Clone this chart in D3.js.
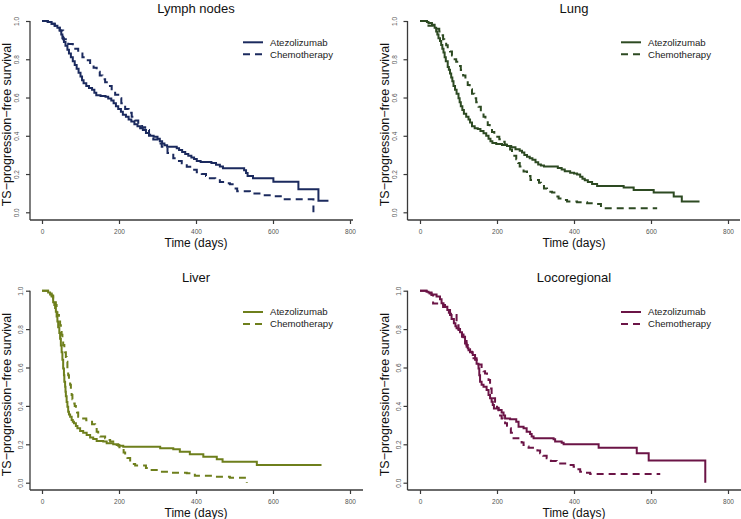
<!DOCTYPE html>
<html><head><meta charset="utf-8">
<script src="https://cdn.jsdelivr.net/npm/d3@7"></script>
<style>body{margin:0;background:#fff} svg{display:block} text{font-family:"Liberation Sans",Arial,Helvetica,sans-serif}</style>
</head><body><svg id="c" width="741" height="519"></svg>
<script>
const panelTitles = ["Lymph nodes", "Lung", "Liver", "Locoregional"];
const seriesNames = ["Atezolizumab", "Chemotherapy"];
const xTicks = [0, 200, 400, 600, 800];
const yTicks = [0, 0.2, 0.4, 0.6, 0.8, 1.0];
const xTitle = "Time (days)";
const yTitle = "TS\u2212progression\u2212free survival";
const panelColors = ["#1b2a5e", "#2d4a22", "#6e7f1c", "#6b1446"];

// [time (days), survival] step points
const lymphAtezo = [[0,1],[15,0.995],[25,0.985],[33,0.975],[40,0.965],[46,0.95],[50,0.93],[53,0.91],[57,0.89],[61,0.87],[66,0.85],[70,0.83],[75,0.81],[80,0.79],[85,0.77],[90,0.75],[95,0.73],[100,0.71],[104,0.69],[108,0.675],[115,0.66],[122,0.65],[130,0.64],[136,0.625],[141,0.612],[152,0.608],[165,0.604],[172,0.595],[180,0.585],[186,0.57],[192,0.555],[198,0.54],[205,0.525],[210,0.51],[218,0.5],[225,0.485],[232,0.475],[240,0.46],[248,0.45],[255,0.44],[262,0.43],[270,0.415],[278,0.4],[290,0.395],[300,0.385],[306,0.372],[312,0.36],[318,0.35],[325,0.343],[350,0.335],[356,0.326],[364,0.315],[372,0.305],[380,0.296],[388,0.286],[395,0.278],[402,0.268],[412,0.263],[440,0.258],[452,0.248],[462,0.24],[470,0.23],[525,0.22],[530,0.205],[534,0.19],[548,0.178],[601,0.16],[666,0.12],[718,0.06],[744,0.06]];
const lymphChemo = [[0,1],[15,0.995],[25,0.985],[33,0.975],[40,0.965],[46,0.95],[55,0.905],[68,0.88],[80,0.855],[94,0.83],[105,0.81],[116,0.795],[125,0.775],[134,0.755],[142,0.735],[150,0.715],[157,0.695],[164,0.68],[172,0.66],[181,0.636],[190,0.615],[198,0.596],[206,0.57],[216,0.54],[225,0.52],[233,0.5],[242,0.48],[250,0.462],[260,0.445],[268,0.43],[278,0.405],[289,0.38],[300,0.36],[311,0.343],[326,0.31],[341,0.282],[352,0.268],[363,0.256],[376,0.238],[389,0.222],[402,0.21],[415,0.2],[426,0.19],[436,0.178],[450,0.168],[462,0.159],[475,0.152],[488,0.146],[500,0.125],[507,0.11],[540,0.098],[571,0.089],[601,0.084],[627,0.068],[705,0]];
const lungAtezo = [[0,1],[18,0.995],[22,0.99],[31,0.98],[38,0.965],[42,0.945],[45,0.93],[48,0.91],[52,0.895],[55,0.875],[58,0.855],[61,0.835],[64,0.81],[67,0.79],[72,0.76],[75,0.745],[78,0.725],[81,0.705],[84,0.685],[87,0.66],[91,0.64],[95,0.62],[100,0.596],[103,0.575],[106,0.555],[110,0.535],[114,0.515],[120,0.5],[126,0.485],[130,0.47],[135,0.45],[142,0.44],[150,0.435],[157,0.425],[165,0.413],[172,0.4],[178,0.385],[183,0.372],[188,0.362],[198,0.357],[213,0.352],[226,0.347],[237,0.34],[248,0.33],[259,0.322],[265,0.312],[271,0.3],[278,0.29],[285,0.282],[292,0.275],[300,0.262],[307,0.25],[314,0.244],[322,0.239],[348,0.239],[358,0.232],[368,0.224],[376,0.214],[390,0.207],[400,0.203],[408,0.197],[416,0.186],[422,0.175],[428,0.167],[436,0.158],[447,0.148],[460,0.138],[529,0.129],[555,0.117],[607,0.103],[659,0.082],[680,0.056],[726,0.056]];
const lungChemo = [[0,1],[18,0.995],[22,0.975],[35,0.97],[44,0.96],[50,0.945],[55,0.925],[60,0.905],[63,0.89],[68,0.873],[72,0.857],[78,0.84],[83,0.82],[90,0.8],[94,0.787],[100,0.765],[106,0.744],[112,0.715],[118,0.69],[124,0.665],[129,0.643],[135,0.62],[141,0.596],[146,0.575],[152,0.552],[158,0.525],[165,0.5],[170,0.478],[176,0.456],[181,0.438],[187,0.42],[193,0.405],[198,0.395],[206,0.382],[213,0.369],[220,0.355],[228,0.343],[234,0.328],[239,0.312],[245,0.295],[250,0.277],[255,0.258],[259,0.239],[264,0.226],[269,0.213],[278,0.19],[287,0.169],[304,0.169],[309,0.155],[314,0.143],[322,0.125],[330,0.108],[343,0.103],[352,0.082],[360,0.072],[369,0.064],[382,0.056],[408,0.052],[434,0.047],[460,0.044],[470,0.021],[616,0.021]];
const liverAtezo = [[0,1],[16,0.99],[21,0.98],[25,0.97],[29,0.94],[32,0.925],[34,0.91],[36,0.89],[38,0.865],[40,0.84],[42,0.81],[45,0.78],[47,0.75],[49,0.715],[51,0.68],[53,0.64],[55,0.595],[57,0.56],[58,0.526],[60,0.5],[61,0.474],[62,0.45],[64,0.42],[66,0.395],[68,0.37],[70,0.355],[73,0.344],[77,0.326],[80,0.318],[83,0.31],[88,0.295],[92,0.283],[99,0.269],[107,0.26],[116,0.248],[125,0.236],[133,0.227],[142,0.217],[159,0.214],[168,0.205],[185,0.2],[198,0.193],[211,0.1875],[307,0.179],[341,0.174],[358,0.161],[384,0.148],[419,0.135],[454,0.122],[469,0.109],[558,0.092],[726,0.092]];
const liverChemo = [[0,1],[21,0.985],[25,0.975],[29,0.96],[33,0.94],[36,0.925],[38,0.9],[40,0.873],[44,0.845],[47,0.82],[49,0.795],[51,0.77],[53,0.745],[55,0.717],[58,0.7],[60,0.68],[62,0.655],[64,0.63],[66,0.595],[68,0.56],[70,0.535],[73,0.51],[75,0.485],[77,0.457],[79,0.435],[81,0.413],[85,0.4],[88,0.387],[91,0.365],[94,0.344],[107,0.335],[115,0.325],[120,0.318],[130,0.305],[138,0.29],[142,0.266],[146,0.253],[151,0.24],[164,0.231],[170,0.222],[177,0.214],[185,0.205],[194,0.196],[201,0.185],[207,0.17],[212,0.157],[216,0.144],[222,0.128],[229,0.109],[235,0.098],[242,0.089],[263,0.089],[270,0.077],[276,0.066],[298,0.057],[333,0.052],[376,0.049],[397,0.036],[445,0.031],[488,0.026],[527,0.01],[532,0]];
const locoAtezo = [[0,1],[17,0.995],[22,0.99],[30,0.98],[43,0.97],[52,0.955],[56,0.934],[61,0.925],[65,0.917],[71,0.899],[75,0.885],[78,0.873],[82,0.852],[88,0.83],[92,0.815],[95,0.804],[100,0.795],[104,0.783],[109,0.772],[113,0.76],[117,0.738],[121,0.717],[124,0.7],[126,0.69],[130,0.679],[137,0.665],[143,0.648],[147,0.62],[152,0.595],[154,0.56],[156,0.526],[160,0.51],[165,0.5],[173,0.483],[178,0.457],[182,0.44],[186,0.422],[189,0.405],[192,0.387],[204,0.378],[212,0.366],[217,0.35],[221,0.335],[234,0.33],[250,0.318],[256,0.292],[269,0.283],[277,0.266],[286,0.253],[290,0.24],[295,0.231],[347,0.226],[351,0.214],[368,0.208],[373,0.2],[464,0.182],[563,0.153],[594,0.115],[741,0]];
const locoChemo = [[0,1],[17,0.995],[25,0.985],[30,0.977],[34,0.933],[60,0.915],[70,0.9],[78,0.88],[91,0.873],[95,0.82],[100,0.8],[104,0.778],[109,0.76],[113,0.743],[117,0.725],[121,0.708],[126,0.695],[130,0.682],[135,0.665],[139,0.648],[143,0.64],[147,0.63],[152,0.615],[160,0.595],[165,0.58],[169,0.569],[174,0.55],[178,0.535],[182,0.49],[186,0.457],[190,0.44],[195,0.422],[200,0.39],[204,0.36],[208,0.35],[212,0.335],[216,0.322],[221,0.309],[226,0.296],[230,0.283],[236,0.26],[243,0.231],[260,0.222],[264,0.21],[269,0.196],[276,0.189],[282,0.182],[305,0.168],[312,0.153],[320,0.14],[329,0.127],[340,0.113],[355,0.1],[386,0.092],[399,0.083],[408,0.07],[416,0.057],[430,0.052],[442,0.045],[624,0.045]];

const atezoSeries = [lymphAtezo, lungAtezo, liverAtezo, locoAtezo];
const chemoSeries = [lymphChemo, lungChemo, liverChemo, locoChemo];

// layout (pixels)
const layout = [
  {xr:[42,350], yr:[212.3,21], ax:30, ay:220, xEnd:353, yLabOff:13},
  {xr:[420,728], yr:[212.3,21], ax:407.5, ay:220, xEnd:740, yLabOff:13},
  {xr:[42,350], yr:[482.7,290.7], ax:30, ay:490, xEnd:363, yLabOff:9},
  {xr:[420,728], yr:[482.7,290.7], ax:407.5, ay:490, xEnd:741, yLabOff:9}
];

const svg = d3.select("#c");
const axisColor = "#3a3a3a";

layout.forEach((L, i) => {
  const x = d3.scaleLinear().domain([0, 800]).range(L.xr);
  const y = d3.scaleLinear().domain([0, 1]).range(L.yr);
  const g = svg.append("g");
  const col = panelColors[i];

  // axes lines (L-shaped)
  g.append("line").attr("x1", L.ax).attr("x2", L.xEnd).attr("y1", L.ay).attr("y2", L.ay)
    .attr("stroke", axisColor).attr("stroke-width", 1.3);
  g.append("line").attr("x1", L.ax).attr("x2", L.ax).attr("y1", y(1)).attr("y2", L.ay)
    .attr("stroke", axisColor).attr("stroke-width", 1.3);

  const xa = g.append("g").attr("transform", `translate(0,${L.ay})`)
    .call(d3.axisBottom(x).tickValues(xTicks).tickSize(4).tickPadding(5.3));
  xa.select(".domain").remove();
  xa.selectAll("line").attr("stroke", axisColor).attr("stroke-width", 1.2);
  xa.selectAll("text").attr("fill", "#555").style("font-size", "6.5px")
    .style("font-family", '"Liberation Sans",Arial,sans-serif');

  const ya = g.append("g").attr("transform", `translate(${L.ax},0)`)
    .call(d3.axisLeft(y).tickValues(yTicks).tickFormat(d3.format(".1f")).tickSize(4));
  ya.select(".domain").remove();
  ya.selectAll("line").attr("stroke", axisColor).attr("stroke-width", 1.2);
  ya.selectAll("text").attr("x", null).attr("dy", "0.35em")
    .attr("transform", `translate(${-L.yLabOff},0) rotate(-90)`)
    .attr("text-anchor", "middle").attr("fill", "#555").style("font-size", "6.5px")
    .style("font-family", '"Liberation Sans",Arial,sans-serif');

  // titles
  g.append("text").attr("x", x(400)).attr("y", y(1) - 8.5).attr("text-anchor", "middle")
    .style("font-size", "13px").attr("fill", "#111").text(panelTitles[i]);
  g.append("text").attr("x", x(400)).attr("y", L.ay + 26.8).attr("text-anchor", "middle")
    .style("font-size", "12px").attr("fill", "#111").text(xTitle);
  g.append("text").attr("transform", `translate(${L.ax - 19},${(y(1) + y(0)) / 2 + 8}) rotate(-90)`)
    .attr("text-anchor", "middle").style("font-size", "12.5px").attr("fill", "#111").text(yTitle);

  // curves
  const line = d3.line().x(d => x(d[0])).y(d => y(d[1])).curve(d3.curveStepAfter);
  g.append("path").datum(atezoSeries[i]).attr("d", line).attr("fill", "none")
    .attr("stroke", col).attr("stroke-width", 2);
  g.append("path").datum(chemoSeries[i]).attr("d", line).attr("fill", "none")
    .attr("stroke", col).attr("stroke-width", 2).attr("stroke-dasharray", "7,5");

  // legend
  const lx = x(0) + 201, ly = y(1) + 21.3;
  seriesNames.forEach((nm, k) => {
    g.append("line").attr("x1", lx).attr("x2", lx + 20).attr("y1", ly + k * 12).attr("y2", ly + k * 12)
      .attr("stroke", col).attr("stroke-width", 2).attr("stroke-dasharray", k ? "7,5" : null);
    g.append("text").attr("x", lx + 27).attr("y", ly + k * 12).attr("dy", "0.35em")
      .style("font-size", "9.6px").attr("fill", "#222").text(nm);
  });
});
</script></body></html>
